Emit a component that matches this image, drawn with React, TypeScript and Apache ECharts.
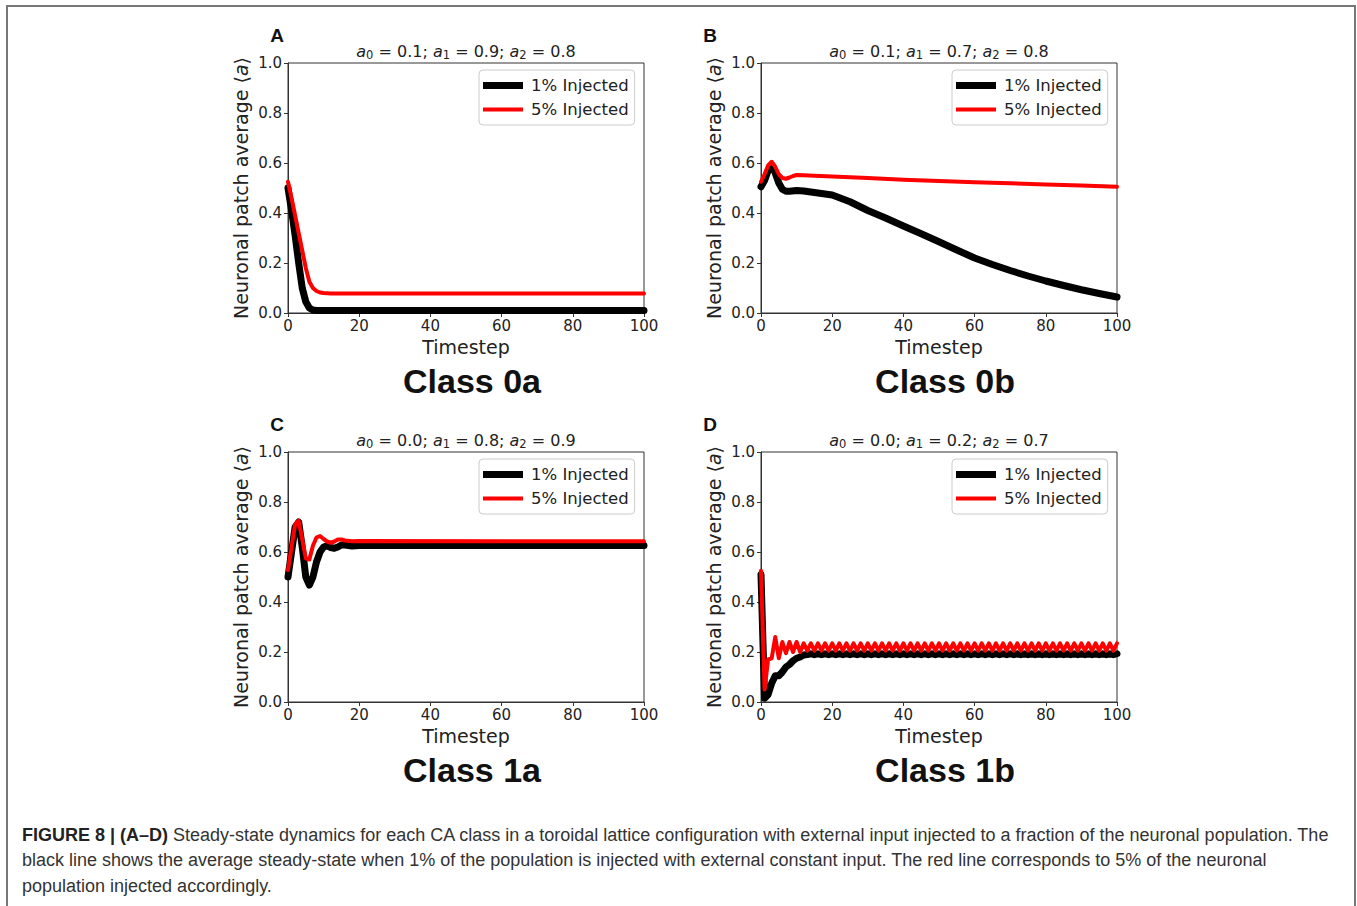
import React, { useEffect, useRef } from "react";
import * as echarts from "echarts";

// ---------- data ----------
const X_TICKS = [0, 20, 40, 60, 80, 100];
const SERIES_NAMES = ["1% Injected", "5% Injected"];
const PANEL_LETTERS = ["A", "B", "C", "D"];
const CLASS_LABELS = ["Class 0a", "Class 0b", "Class 1a", "Class 1b"];
const PARAMS = [
  ["0.1", "0.9", "0.8"],
  ["0.1", "0.7", "0.8"],
  ["0.0", "0.8", "0.9"],
  ["0.0", "0.2", "0.7"],
];

// [timestep, value]
const A_BLACK = [[0, 0.5], [1, 0.41], [2, 0.31], [3, 0.2], [4, 0.1], [5, 0.045], [6, 0.02], [7, 0.012], [8, 0.01], [100, 0.01]];
const A_RED = [[0, 0.525], [1, 0.46], [2, 0.39], [3, 0.32], [4, 0.25], [5, 0.18], [6, 0.125], [7, 0.1], [8, 0.088], [9, 0.082], [10, 0.08], [12, 0.078], [100, 0.078]];

const B_BLACK = [[0, 0.505], [1, 0.53], [2, 0.57], [3, 0.59], [4, 0.56], [5, 0.52], [6, 0.495], [7, 0.487], [8, 0.487], [10, 0.49], [12, 0.488], [15, 0.482], [20, 0.472], [25, 0.445], [30, 0.41], [35, 0.38], [40, 0.348], [45, 0.317], [50, 0.285], [55, 0.252], [60, 0.22], [65, 0.194], [70, 0.17], [75, 0.148], [80, 0.128], [85, 0.11], [90, 0.093], [95, 0.078], [100, 0.064]];
const B_RED = [[0, 0.525], [1, 0.555], [2, 0.59], [3, 0.605], [4, 0.585], [5, 0.555], [6, 0.54], [7, 0.537], [8, 0.542], [9, 0.548], [10, 0.552], [12, 0.551], [15, 0.549], [20, 0.546], [30, 0.54], [40, 0.533], [50, 0.528], [60, 0.523], [70, 0.519], [80, 0.514], [90, 0.51], [100, 0.505]];

const C_BLACK = [[0, 0.5], [1, 0.6], [2, 0.7], [3, 0.72], [4, 0.62], [5, 0.5], [6, 0.468], [7, 0.5], [8, 0.56], [9, 0.6], [10, 0.62], [11, 0.625], [12, 0.618], [13, 0.615], [14, 0.62], [15, 0.628], [16, 0.628], [18, 0.624], [20, 0.626], [100, 0.626]];
const C_RED = [[0, 0.528], [1, 0.62], [2, 0.71], [3, 0.725], [4, 0.65], [5, 0.575], [6, 0.57], [7, 0.625], [8, 0.658], [9, 0.664], [10, 0.652], [11, 0.642], [12, 0.637], [13, 0.642], [14, 0.65], [15, 0.65], [16, 0.646], [18, 0.643], [20, 0.644], [100, 0.643]];

// one value per timestep 0..100
const D_BLACK = [
  0.51, 0.015, 0.03, 0.075, 0.105, 0.105, 0.12, 0.14, 0.15, 0.165,
  0.175, 0.18, 0.188, 0.19, 0.193, 0.189, 0.193, 0.189, 0.193, 0.189,
  0.193, 0.189, 0.193, 0.189, 0.193, 0.189, 0.193, 0.189, 0.193, 0.189,
  0.193, 0.189, 0.193, 0.189, 0.193, 0.189, 0.193, 0.189, 0.193, 0.189,
  0.193, 0.189, 0.193, 0.189, 0.193, 0.189, 0.193, 0.189, 0.193, 0.189,
  0.193, 0.189, 0.193, 0.189, 0.193, 0.189, 0.193, 0.189, 0.193, 0.189,
  0.193, 0.189, 0.193, 0.189, 0.193, 0.189, 0.193, 0.189, 0.193, 0.189,
  0.193, 0.189, 0.193, 0.189, 0.193, 0.189, 0.193, 0.189, 0.193, 0.189,
  0.193, 0.189, 0.193, 0.189, 0.193, 0.189, 0.193, 0.189, 0.193, 0.189,
  0.193, 0.189, 0.193, 0.189, 0.193, 0.189, 0.193, 0.189, 0.193, 0.189,
  0.193,
];
const D_RED = [
  0.525, 0.05, 0.17, 0.175, 0.26, 0.175, 0.24, 0.195, 0.24, 0.2,
  0.24, 0.2, 0.235, 0.205, 0.235, 0.205, 0.235, 0.205, 0.235, 0.205,
  0.235, 0.205, 0.235, 0.205, 0.235, 0.205, 0.235, 0.205, 0.235, 0.205,
  0.235, 0.205, 0.235, 0.205, 0.235, 0.205, 0.235, 0.205, 0.235, 0.205,
  0.235, 0.205, 0.235, 0.205, 0.235, 0.205, 0.235, 0.205, 0.235, 0.205,
  0.235, 0.205, 0.235, 0.205, 0.235, 0.205, 0.235, 0.205, 0.235, 0.205,
  0.235, 0.205, 0.235, 0.205, 0.235, 0.205, 0.235, 0.205, 0.235, 0.205,
  0.235, 0.205, 0.235, 0.205, 0.235, 0.205, 0.235, 0.205, 0.235, 0.205,
  0.235, 0.205, 0.235, 0.205, 0.235, 0.205, 0.235, 0.205, 0.235, 0.205,
  0.235, 0.205, 0.235, 0.205, 0.235, 0.205, 0.235, 0.205, 0.235, 0.205,
  0.235,
];

const CAPTION_LINES = [
  "Steady-state dynamics for each CA class in a toroidal lattice configuration with external input injected to a fraction of the neuronal population. The",
  "black line shows the average steady-state when 1% of the population is injected with external constant input. The red line corresponds to 5% of the neuronal",
  "population injected accordingly.",
];

// ---------- layout ----------
const DJ = "'DejaVu Sans', sans-serif";
const LIB = "'Liberation Sans', Arial, sans-serif";
const GRIDS = [
  { left: 288, top: 63 },
  { left: 761, top: 63 },
  { left: 288, top: 452 },
  { left: 761, top: 452 },
];
const LETTER_X = [277, 710, 277, 710];
const GW = 356;
const GH = 250;
const ICON_BLACK = "path://M0,0L0.01,0L0,0ZM0,3.5H40V10.5H0ZM0,14L0.01,14L0,14Z";
const ICON_RED = "path://M0,0L0.01,0L0,0ZM0,5H40V9H0ZM0,14L0.01,14L0,14Z";

const toPairs = (arr: number[]) => arr.map((v, i) => [i, v]);

export default function App() {
  const ref = useRef<HTMLDivElement>(null);
  useEffect(() => {
    if (!ref.current) return;
    const chart = echarts.init(ref.current, null, { renderer: "svg" });
    const panelData = [
      [A_BLACK, A_RED],
      [B_BLACK, B_RED],
      [C_BLACK, C_RED],
      [toPairs(D_BLACK), toPairs(D_RED)],
    ];

    const grid = GRIDS.map((g) => ({
      left: g.left,
      top: g.top,
      width: GW,
      height: GH,
      show: true,
      borderColor: "#333",
      borderWidth: 1,
      backgroundColor: "transparent",
    }));
    const xAxis = GRIDS.map((_, i) => ({
      type: "value",
      gridIndex: i,
      min: X_TICKS[0],
      max: X_TICKS[X_TICKS.length - 1],
      interval: 20,
      axisLine: { show: true, lineStyle: { color: "#333", width: 1 } },
      axisTick: { show: true, length: 4, lineStyle: { color: "#333" } },
      axisLabel: { fontSize: 15, color: "#222", fontFamily: DJ, margin: 5 },
      splitLine: { show: false },
    }));
    const yAxis = GRIDS.map((_, i) => ({
      type: "value",
      gridIndex: i,
      min: 0,
      max: 1,
      interval: 0.2,
      axisLine: { show: true, lineStyle: { color: "#333", width: 1 } },
      axisTick: { show: true, length: 4, lineStyle: { color: "#333" } },
      axisLabel: {
        fontSize: 15,
        color: "#222",
        fontFamily: DJ,
        margin: 6,
        formatter: (v: number) => v.toFixed(1),
      },
      splitLine: { show: false },
    }));
    const series: any[] = [];
    panelData.forEach((pd, i) => {
      series.push({
        type: "line",
        name: SERIES_NAMES[0],
        xAxisIndex: i,
        yAxisIndex: i,
        data: pd[0],
        symbol: "none",
        lineStyle: { color: "#000", width: 7, join: "round", cap: "round" },
        itemStyle: { color: "#000" },
        z: 2,
      });
      series.push({
        type: "line",
        name: SERIES_NAMES[1],
        xAxisIndex: i,
        yAxisIndex: i,
        data: pd[1],
        symbol: "none",
        lineStyle: { color: "#ff0000", width: 4, join: "round", cap: "round" },
        itemStyle: { color: "#ff0000" },
        z: 3,
      });
    });
    const legend = GRIDS.map((g) => ({
      left: g.left + 191,
      top: g.top + 7,
      orient: "vertical",
      data: [
        { name: SERIES_NAMES[0], icon: ICON_BLACK },
        { name: SERIES_NAMES[1], icon: ICON_RED },
      ],
      itemWidth: 40,
      itemHeight: 14,
      itemGap: 7,
      padding: [7, 6, 7, 4],
      borderColor: "#ccc",
      borderWidth: 1,
      borderRadius: 4,
      backgroundColor: "#fff",
      selectedMode: false,
      textStyle: { fontSize: 16.5, fontFamily: DJ, color: "#222", padding: [0, 0, 0, 3] },
    }));

    const graphic: any[] = [
      {
        type: "rect",
        shape: { x: 7, y: 6, width: 1348, height: 930 },
        style: { fill: "none", stroke: "#777", lineWidth: 2 },
        silent: true,
      },
    ];
    const titleRich = {
      i: { fontStyle: "italic", fontSize: 16, fontFamily: DJ, fill: "#222", lineHeight: 18 },
      n: { fontSize: 16, fontFamily: DJ, fill: "#222", lineHeight: 18 },
      s: { fontSize: 11.5, fontFamily: DJ, fill: "#222", lineHeight: 11, padding: [8, 0, 0, 0] },
    };
    GRIDS.forEach((g, i) => {
      const cx = g.left + GW / 2;
      const p = PARAMS[i];
      graphic.push({
        type: "text",
        x: LETTER_X[i],
        y: g.top - 28,
        style: {
          text: PANEL_LETTERS[i],
          font: `bold 19px ${LIB}`,
          fill: "#111",
          textAlign: "center",
          textVerticalAlign: "middle",
        },
      });
      graphic.push({
        type: "text",
        x: cx,
        y: g.top - 12,
        style: {
          text: `{i|a}{s|0}{n| = ${p[0]}; }{i|a}{s|1}{n| = ${p[1]}; }{i|a}{s|2}{n| = ${p[2]}}`,
          font: `16px ${DJ}`,
          fill: "#222",
          textAlign: "center",
          textVerticalAlign: "middle",
          rich: titleRich,
        },
      });
      graphic.push({
        type: "text",
        x: cx,
        y: g.top + GH + 34,
        style: {
          text: "Timestep",
          font: `19px ${DJ}`,
          fill: "#222",
          textAlign: "center",
          textVerticalAlign: "middle",
        },
      });
      graphic.push({
        type: "text",
        x: g.left - 47,
        y: g.top + GH / 2,
        rotation: Math.PI / 2,
        style: {
          text: "Neuronal patch average ⟨{i|a}⟩",
          font: `19px ${DJ}`,
          fill: "#222",
          textAlign: "center",
          textVerticalAlign: "middle",
          rich: {
            i: { fontStyle: "italic", fontSize: 19, fontFamily: DJ, fill: "#222" },
          },
        },
      });
      graphic.push({
        type: "text",
        x: cx + 6,
        y: g.top + GH + 68,
        style: {
          text: CLASS_LABELS[i],
          font: `bold 34px ${LIB}`,
          fill: "#111",
          textAlign: "center",
          textVerticalAlign: "middle",
        },
      });
    });
    // caption
    graphic.push({
      type: "text",
      x: 22,
      y: 835,
      style: {
        text: `{b|FIGURE 8 | (A–D)} ${CAPTION_LINES[0]}`,
        font: `18px ${LIB}`,
        fill: "#333",
        textVerticalAlign: "middle",
        rich: { b: { fontWeight: "bold", fontSize: 18, fontFamily: LIB, fill: "#222" } },
      },
    });
    graphic.push({
      type: "text",
      x: 22,
      y: 860,
      style: { text: CAPTION_LINES[1], font: `18px ${LIB}`, fill: "#333", textVerticalAlign: "middle" },
    });
    graphic.push({
      type: "text",
      x: 22,
      y: 886,
      style: { text: CAPTION_LINES[2], font: `18px ${LIB}`, fill: "#333", textVerticalAlign: "middle" },
    });

    chart.setOption({
      animation: false,
      backgroundColor: "#fff",
      grid,
      xAxis,
      yAxis,
      legend,
      series,
      graphic,
    });
    return () => chart.dispose();
  }, []);
  return (
    <div
      ref={ref}
      style={{ position: "absolute", left: 0, top: 0, width: 1357, height: 906 }}
    />
  );
}
